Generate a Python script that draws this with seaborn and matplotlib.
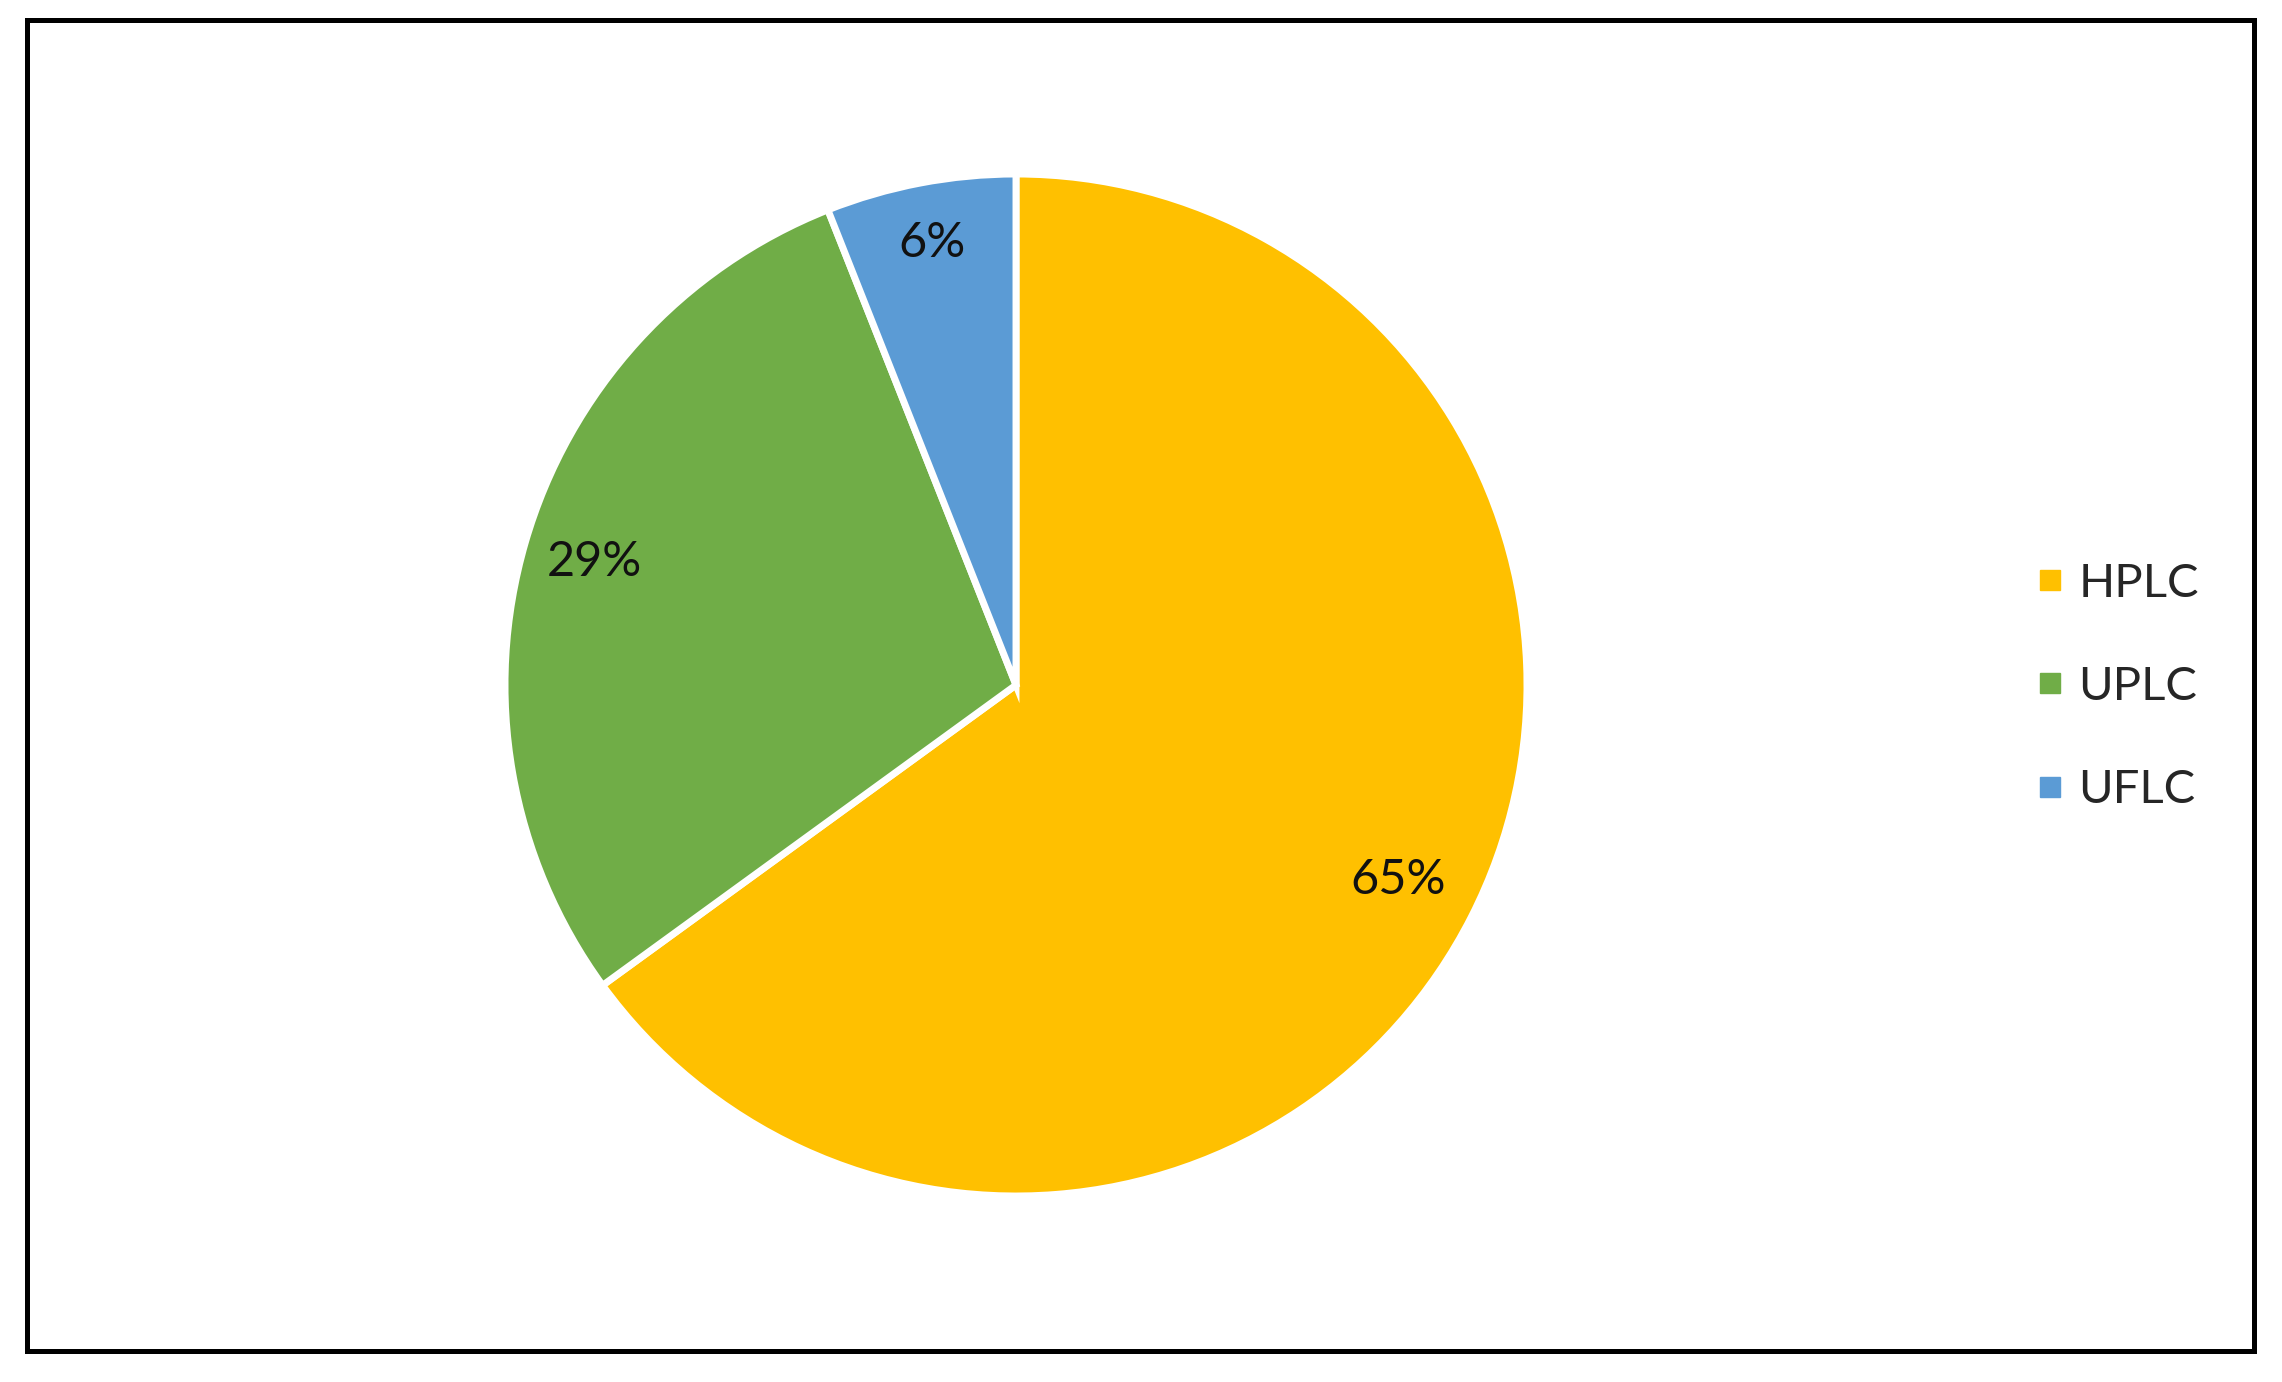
import matplotlib
matplotlib.use("Agg")
import numpy as np
import matplotlib.pyplot as plt
import seaborn as sns
from matplotlib.lines import Line2D
from matplotlib.patches import Rectangle

categories = ["HPLC", "UPLC", "UFLC"]
values = [65, 29, 6]
colors = ["#FFC000", "#70AD47", "#5B9BD5"]

sns.set_theme(style="white")
plt.rcParams['font.family'] = ['Lato', 'DejaVu Sans']

W, H = 2282, 1382
fig = plt.figure(figsize=(W / 100, H / 100), dpi=100)
fig.patch.set_facecolor("white")

cx, cy, r = 1016, 685, 511
ax = fig.add_axes([(cx - r) / W, (H - cy - r) / H, 2 * r / W, 2 * r / H])
wedges, texts, autotexts = ax.pie(
    values, colors=colors, startangle=90, counterclock=False,
    autopct=lambda p: f"{p:.0f}%", pctdistance=0.855,
    wedgeprops=dict(edgecolor="white", linewidth=5),
    textprops=dict(fontsize=35, color="#111111"), radius=1.0)
# Excel-like "best fit" label distances
label_dist = [0.84, 0.86, 0.88]
for w, t, d in zip(wedges, autotexts, label_dist):
    ang = np.deg2rad((w.theta1 + w.theta2) / 2)
    t.set_position((d * np.cos(ang), d * np.sin(ang)))
ax.set_xlim(-1, 1)
ax.set_ylim(-1, 1)
ax.set_aspect("equal")
ax.axis("off")

handles = [Line2D([0], [0], marker="s", linestyle="none", markersize=15,
                  markerfacecolor=c, markeredgecolor=c) for c in colors]
fig.legend(handles, categories, loc="center left",
           bbox_to_anchor=(2035 / W, 1 - 687 / H), frameon=False,
           borderpad=0, borderaxespad=0,
           fontsize=34, labelspacing=1.3, handlelength=0.62, handletextpad=0.3)

fig.patches.append(Rectangle((26.5 / W, (H - 1350.5) / H), (2253.5 - 26.5) / W, (1350.5 - 19.5) / H,
                             transform=fig.transFigure, fill=False,
                             edgecolor="black", linewidth=3.6))

fig.savefig("out.png", dpi=100, facecolor="white")
